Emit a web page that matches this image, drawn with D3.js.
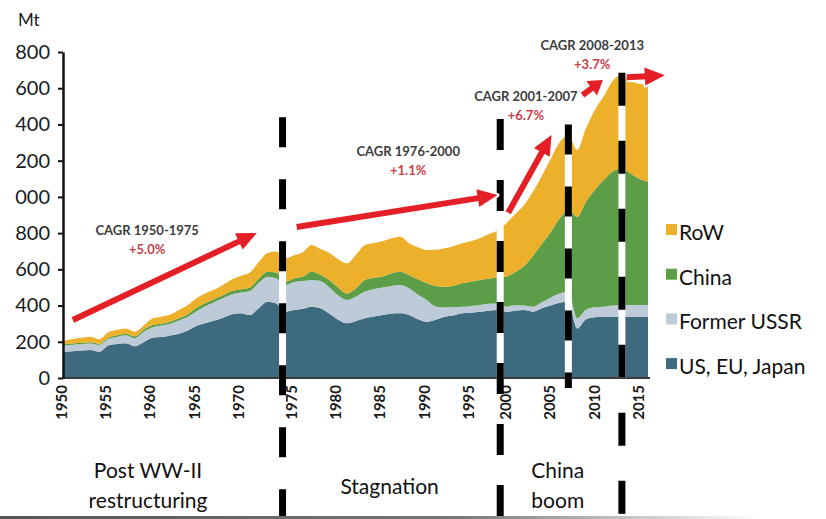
<!DOCTYPE html>
<html><head><meta charset="utf-8">
<script src="https://cdn.jsdelivr.net/npm/d3@7"></script>
<style>
body{margin:0;background:#fff}
svg{display:block}
text{font-family:Lato,"Open Sans",sans-serif}
</style>
</head><body><svg id="c" width="826" height="519"></svg>
<script>
// ---------- data ----------
const years = d3.range(1950, 2017);
const usEuJapan = [145,148,152,155,145,180,188,192,175,198,222,226,235,245,262,288,304,318,333,352,358,348,385,421,412,366,375,382,394,385,355,322,302,315,330,340,348,355,357,348,325,311,322,338,345,357,360,366,372,375,366,372,375,366,385,400,415,421,274,325,336,338,338,338,338,338,338];
const formerUSSR = [35,36,36,36,38,35,40,44,45,57,58,64,65,73,76,82,94,102,109,110,114,132,140,138,138,147,155,153,147,150,145,133,129,135,147,152,152,153,156,147,135,120,73,52,47,37,38,37,38,37,28,31,25,28,33,45,51,56,56,53,54,56,62,65,65,65,65];
const china = [6,6,6,6,6,7,8,9,10,11,12,10,11,12,14,18,16,16,16,18,18,20,23,28,32,19,20,25,46,35,40,45,35,45,64,61,60,70,74,74,85,92,113,114,118,129,134,138,138,143,166,182,218,281,322,360,414,451,561,597,650,699,740,755,727,697,681];
const row = [19,25,28,31,25,30,30,29,26,24,36,38,39,46,51,54,54,52,57,65,75,82,92,103,116,129,128,135,147,142,150,156,167,185,193,192,195,194,193,175,177,184,200,212,218,221,223,230,247,260,295,320,337,355,375,405,420,412,368,405,440,462,500,515,510,525,534];

const seriesKeys = ["usEuJapan","formerUSSR","china","row"];
const seriesNames = {usEuJapan:"US, EU, Japan", formerUSSR:"Former USSR", china:"China", row:"RoW"};
const seriesColors = {usEuJapan:"#3e6a7f", formerUSSR:"#bdcad7", china:"#5b9e47", row:"#ecb02b"};

const yTickValues = [0,200,400,600,800,1000,1200,1400,1600,1800];
const yTickLabels = ["0","200","400","600","800","000","200","400","600","800"];
const xTickYears = [1950,1955,1960,1965,1970,1975,1980,1985,1990,1995,2000,2005,2010,2015];

// period break lines (year, top value, dash, gap, reaches below axis)
const breaks = [
  {year:1974.7, top:1440, dash:30, gap:32, below:true},
  {year:1999.3, top:1430, dash:31, gap:30, below:true},
  {year:2007.0, top:1400, dash:30, gap:32, below:false},
  {year:2013.05, top:1685, dash:33, gap:35, below:true}
];

// CAGR annotations
const cagrLabels = ["CAGR 1950-1975","CAGR 1976-2000","CAGR 2001-2007","CAGR 2008-2013"];
const cagrRates = ["+5.0%","+1.1%","+6.7%","+3.7%"];
const cagrAnchor = [[1959.4,806,701],[1988.9,1242,1137],[2002.2,1546,1441],[2009.7,1828,1723]];
// arrows [x1year, y1value, x2year, y2value]
const arrows = [
  [1951.0,320,1971.8,801],
  [1976.3,834,1999.0,1010],
  [2000.2,912,2005.1,1342],
  [2008.6,1562,2010.9,1645],
  [2013.6,1660,2017.9,1671]
];

const phaseLabels = [
  {year:1959.5, lines:["Post WW-II","restructuring"]},
  {year:1986.8, lines:["Stagnation"]},
  {year:2005.8, lines:["China","boom"]}
];

// ---------- chart ----------
const svg = d3.select("#c");
svg.append("rect").attr("width",826).attr("height",519).attr("fill","#fff");

const x = d3.scaleLinear().domain([1950,2016]).range([64,648]);
const y = d3.scaleLinear().domain([0,1800]).range([378,52]);
// category label scale (labels of the original sit slightly off the data grid between the breaks)
const xl = d3.scaleLinear().domain([1950,1970,1975,1995,2000,2015]).range([63,240,293,470,507,640]);

const table = years.map((yr,i)=>({year:yr, usEuJapan:usEuJapan[i], formerUSSR:formerUSSR[i], china:china[i], row:row[i]}));
const stacked = d3.stack().keys(seriesKeys)(table);

const area = d3.area()
  .x(d=>x(d.data.year))
  .y0(d=>y(d[0]))
  .y1(d=>y(d[1]))
  .curve(d3.curveMonotoneX);

svg.append("g").selectAll("path").data(stacked).join("path")
  .attr("d",area)
  .attr("fill",d=>seriesColors[d.key]);

// x axis line
svg.append("line").attr("x1",63).attr("x2",650).attr("y1",378).attr("y2",378)
  .attr("stroke","#3a3a3a").attr("stroke-width",2);

// y axis
const yAxis = d3.axisLeft(y).tickValues(yTickValues)
  .tickFormat((d,i)=>yTickLabels[i]).tickSize(5).tickSizeOuter(0).tickPadding(8);
const gy = svg.append("g").attr("transform","translate(63,0)").call(yAxis);
gy.select(".domain").attr("stroke","#111").attr("stroke-width",2.5);
gy.selectAll(".tick line").attr("stroke","#111").attr("stroke-width",2);
gy.selectAll(".tick text").attr("font-size",20).attr("fill","#1a1a1a")
  .attr("font-family","Lato, 'Open Sans', sans-serif");

svg.append("text").attr("x",18).attr("y",26).attr("font-size",17).attr("fill","#1a1a1a").text("Mt");

// x tick labels (rotated)
svg.append("g").selectAll("text").data(xTickYears).join("text")
  .attr("transform",d=>`translate(${xl(d)},385) rotate(-90)`)
  .attr("text-anchor","end").attr("dominant-baseline","middle")
  .attr("font-size",15).attr("font-weight","bold").attr("fill","#1a1a1a")
  .text(d=>d);

// break lines
const gb = svg.append("g");
breaks.forEach(b=>{
  const xb = x(b.year);
  const y0 = y(b.top);
  gb.append("line").attr("x1",xb).attr("x2",xb).attr("y1",y0).attr("y2",378)
    .attr("stroke","#fff").attr("stroke-width",7);
  gb.append("line").attr("x1",xb).attr("x2",xb).attr("y1",y0).attr("y2",b.below?519:388)
    .attr("stroke","#000").attr("stroke-width",7)
    .attr("stroke-dasharray",`${b.dash},${b.gap}`);
});

// arrows
function arrow(g, a){
  const x1=x(a[0]), y1=y(a[1]), x2=x(a[2]), y2=y(a[3]);
  const dx=x2-x1, dy=y2-y1, L=Math.hypot(dx,dy);
  const ux=dx/L, uy=dy/L, nx=-uy, ny=ux;
  const hl=Math.min(20, L*0.55), hw=9;
  const bx=x2-ux*hl, by=y2-uy*hl;
  const head=[[x2,y2],[bx+nx*hw,by+ny*hw],[bx-nx*hw,by-ny*hw]];
  [["#fff",4],["#e41f26",0]].forEach(([c,extra])=>{
    g.append("line").attr("x1",x1).attr("y1",y1).attr("x2",bx+ux*2).attr("y2",by+uy*2)
      .attr("stroke",c).attr("stroke-width",6+extra).attr("stroke-linecap","butt");
    g.append("polygon").attr("points",head.map(p=>p.join(",")).join(" "))
      .attr("fill",c).attr("stroke",c).attr("stroke-width",extra).attr("stroke-linejoin","round");
  });
}
const ga = svg.append("g");
arrows.forEach(a=>arrow(ga,a));

// CAGR labels
const gc = svg.append("g");
cagrLabels.forEach((t,i)=>{
  const [yr,v1,v2]=cagrAnchor[i];
  gc.append("text").attr("x",x(yr)).attr("y",y(v1)).attr("text-anchor","middle")
    .attr("dominant-baseline","middle").attr("font-size",13).attr("font-weight","bold")
    .attr("fill","#3c3c3c").text(t);
  gc.append("text").attr("x",x(yr)).attr("y",y(v2)).attr("text-anchor","middle")
    .attr("dominant-baseline","middle").attr("font-size",13).attr("font-weight","bold")
    .attr("fill","#c8404a").text(cagrRates[i]);
});

// legend
const legendOrder = ["row","china","formerUSSR","usEuJapan"];
const gl = svg.append("g");
legendOrder.forEach((k,i)=>{
  const by = 240 + i*44.7;
  gl.append("rect").attr("x",666).attr("y",by-16).attr("width",11).attr("height",11).attr("fill",seriesColors[k]);
  gl.append("text").attr("x",679).attr("y",by).attr("font-size",21).attr("fill","#111").text(seriesNames[k]);
});

// phase labels
const gp = svg.append("g");
phaseLabels.forEach(p=>{
  const t = gp.append("text").attr("text-anchor","middle").attr("font-size",21).attr("fill","#111");
  if(p.lines.length===1){
    t.append("tspan").attr("x",x(p.year)).attr("y",494).text(p.lines[0]);
  } else {
    p.lines.forEach((l,j)=>t.append("tspan").attr("x",x(p.year)).attr("y",478+j*30).text(l));
  }
});

// bottom rule
const grad = svg.append("defs").append("linearGradient").attr("id","rule");
grad.append("stop").attr("offset","0%").attr("stop-color","#555");
grad.append("stop").attr("offset","60%").attr("stop-color","#777");
grad.append("stop").attr("offset","100%").attr("stop-color","#fff");
svg.append("rect").attr("x",0).attr("y",516).attr("width",760).attr("height",3).attr("fill","url(#rule)");
</script>
</body></html>
